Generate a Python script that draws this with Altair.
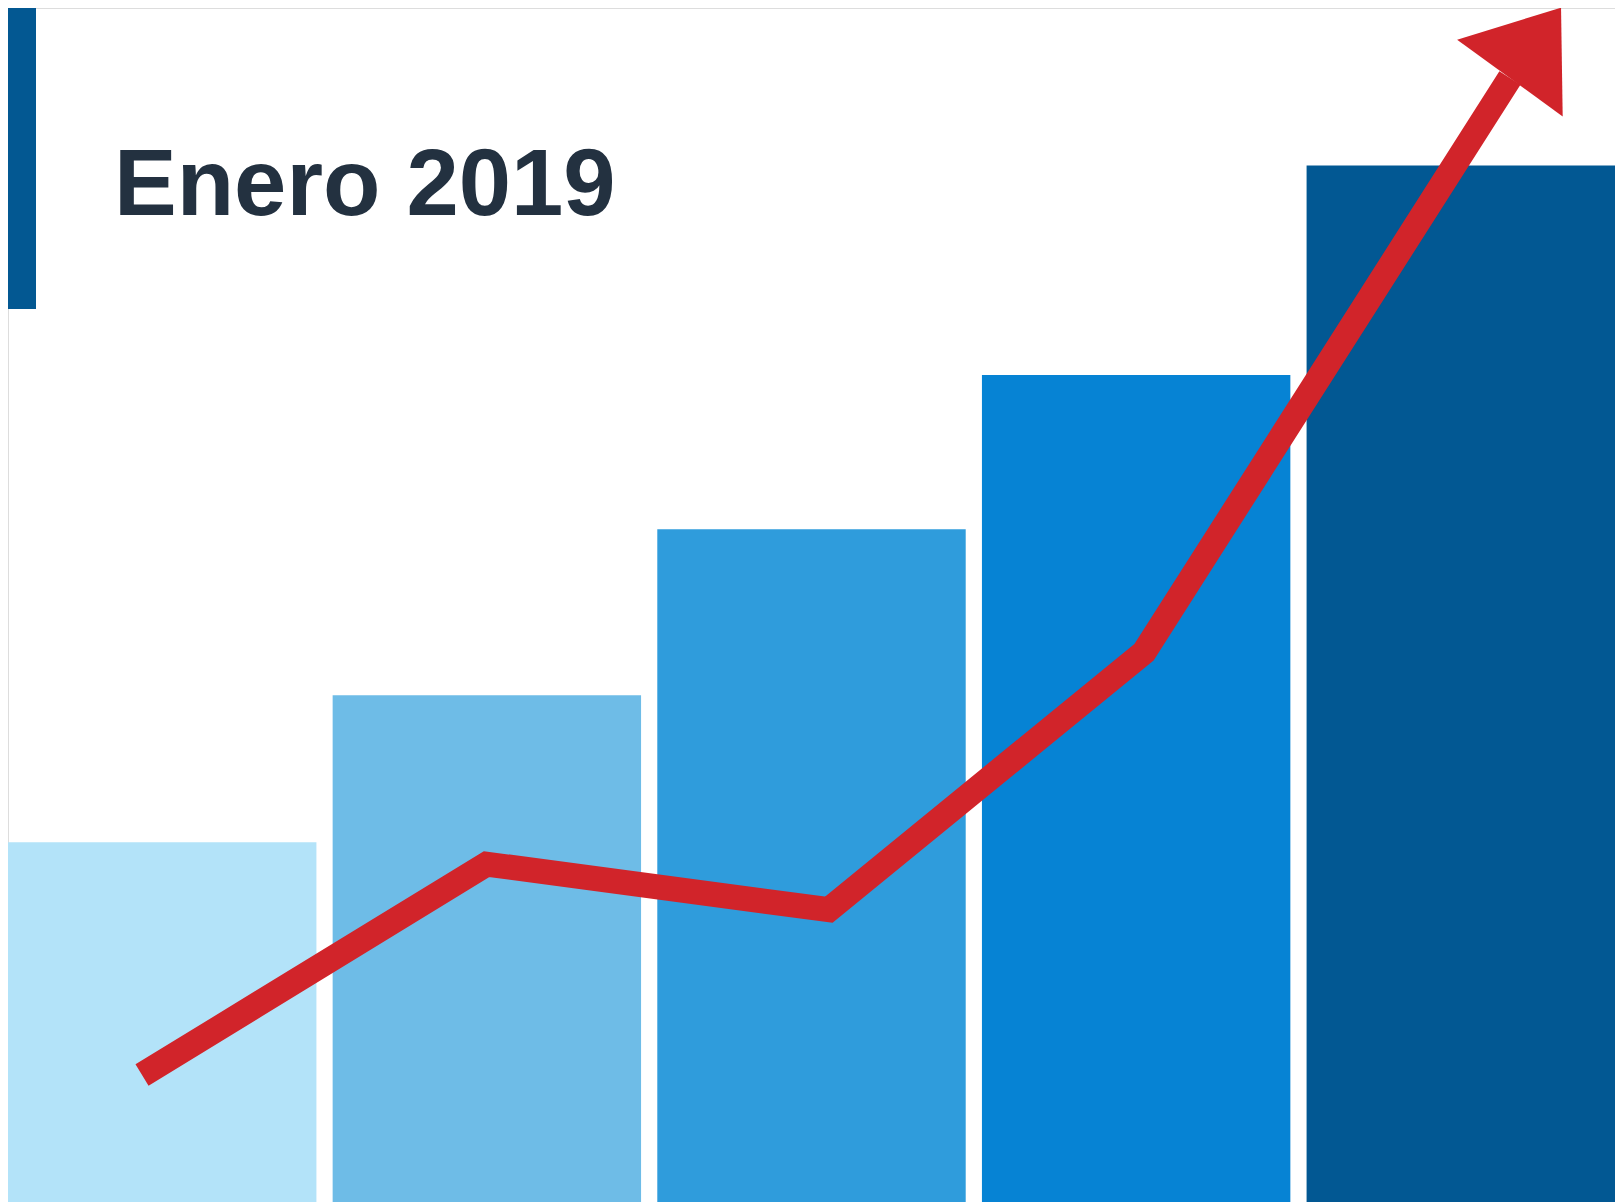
import altair as alt
import pandas as pd

# Bars
categories = ["1", "2", "3", "4", "5"]
bar_values = [34.7, 48.9, 64.9, 79.8, 100]
bar_colors = ["#b3e3f9", "#6ebce7", "#2f9cdc", "#0683d4", "#025893"]

# Trend line (x in bar-position units 0..5, y on the bar value scale)
line_x = [0.417, 1.489, 2.554, 3.535, 4.673]
line_y = [12.25, 32.6, 28.2, 53.06, 108.44]

title_text = "Enero 2019"

W, H = 1607, 1194
Y_MAX = 115.2
RED = "#d1242a"

bars_df = pd.DataFrame({"cat": categories, "value": bar_values})
line_df = pd.DataFrame({"x": line_x, "y": line_y, "order": list(range(len(line_x)))})
head_df = line_df.tail(1)

yscale = alt.Scale(domain=[0, Y_MAX], nice=False, zero=True)
xq = alt.Scale(domain=[0, 5], nice=False, zero=False)

bars = alt.Chart(bars_df).mark_bar(opacity=1).encode(
    x=alt.X("cat:N", sort=None, axis=None,
            scale=alt.Scale(paddingInner=0.05, paddingOuter=0)),
    y=alt.Y("value:Q", axis=None, scale=yscale),
    color=alt.Color("cat:N", sort=None, legend=None,
                    scale=alt.Scale(domain=categories, range=bar_colors)),
)

line = alt.Chart(line_df).mark_line(
    color=RED, strokeWidth=25, strokeJoin="miter", strokeCap="butt", strokeMiterLimit=10
).encode(
    x=alt.X("x:Q", axis=None, scale=xq),
    y=alt.Y("y:Q", axis=None, scale=yscale),
    order="order:Q",
)

head = alt.Chart(head_df).mark_point(
    shape="M0,-1L0.75,0L-0.75,0Z", size=30276, angle=36,
    filled=True, fill=RED, color=RED, opacity=1, strokeWidth=0,
).encode(
    x=alt.X("x:Q", axis=None, scale=xq),
    y=alt.Y("y:Q", axis=None, scale=yscale),
)

title = alt.Chart(pd.DataFrame({"t": [title_text]})).mark_text(
    font="Liberation Sans", fontWeight="bold", fontSize=94, color="#233140",
    align="left", baseline="alphabetic",
).encode(
    text="t:N", x=alt.value(106), y=alt.value(207),
)

accent = alt.Chart(pd.DataFrame({"a": [1]})).mark_rect(color="#035892").encode(
    x=alt.value(0), x2=alt.value(28), y=alt.value(0), y2=alt.value(301),
)

chart = alt.layer(bars, line, head, title, accent).resolve_scale(
    x="independent", color="independent"
).properties(
    width=W, height=H, padding=0,
    autosize=alt.AutoSizeParams(type="none"),
).configure_view(strokeWidth=0, stroke="transparent").configure(background="white")

chart.save("out.html", embed_options={"renderer": "svg", "actions": False})
